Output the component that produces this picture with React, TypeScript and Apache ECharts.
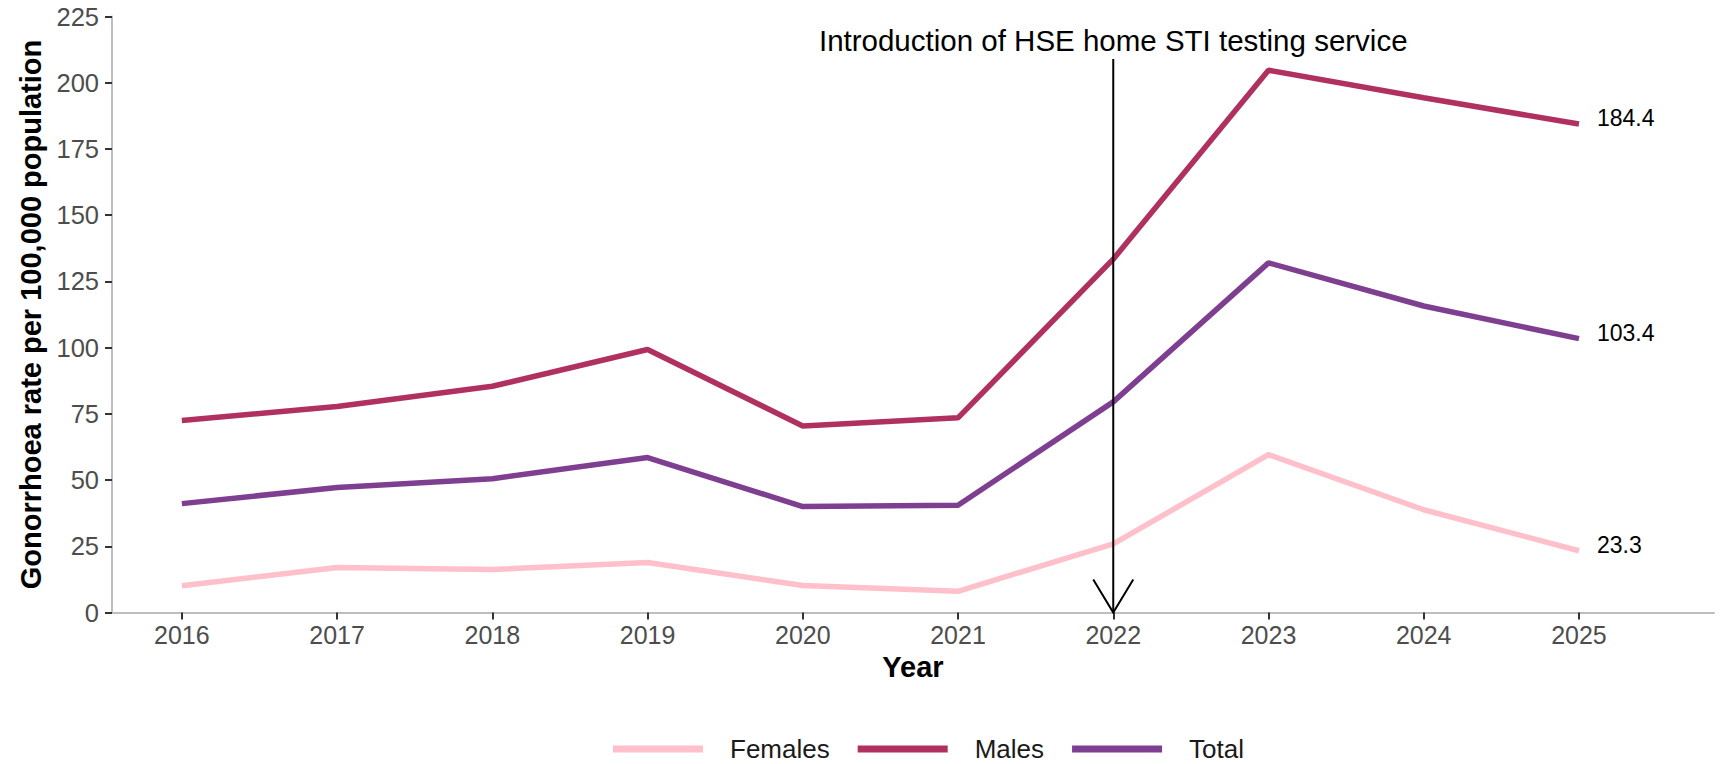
import React, { useEffect, useRef } from "react";
import * as echarts from "echarts";

const years = [2016, 2017, 2018, 2019, 2020, 2021, 2022, 2023, 2024, 2025];
const females = [10.1, 17.0, 16.2, 18.9, 10.2, 8.0, 25.9, 59.6, 38.8, 23.3];
const males = [72.5, 77.8, 85.4, 99.3, 70.4, 73.5, 133.4, 204.7, 194.3, 184.4];
const total = [41.1, 47.2, 50.5, 58.5, 40.0, 40.5, 79.5, 132.0, 115.7, 103.4];
const seriesNames = ["Females", "Males", "Total"];
const seriesColors = ["#FFC0CB", "#B03060", "#7F3F90"];
const yTicks = [0, 25, 50, 75, 100, 125, 150, 175, 200, 225];
const annotationText = "Introduction of HSE home STI testing service";
// [year, arrow top, arrow bottom, text y]
const annotation = [[2022, 209, 0, 216]];

const FONT = "'Liberation Sans', Arial, sans-serif";

export default function App() {
  const ref = useRef<HTMLDivElement>(null);
  useEffect(() => {
    document.body.style.margin = "0";
    const chart = echarts.init(ref.current!, null, { renderer: "svg" });
    const all = [females, males, total];
    const lineSeries = all.map((vals, i) => ({
      name: seriesNames[i],
      type: "line",
      data: years.map((y, j) => [y, vals[j]]),
      showSymbol: false,
      symbol: "none",
      lineStyle: { width: 5.5, color: seriesColors[i] },
      itemStyle: { color: seriesColors[i] },
      emphasis: { disabled: true },
      endLabel: {
        show: true,
        formatter: (p: any) => Number(p.value[1]).toFixed(1),
        distance: 18,
        offset: [0, -6],
        fontSize: 23,
        color: "#000",
        fontFamily: FONT,
      },
      z: 2,
    }));
    chart.setOption({
      animation: false,
      backgroundColor: "#fff",
      textStyle: { fontFamily: FONT },
      grid: { left: 112, right: 12, top: 16.5, bottom: 151.5, containLabel: false },
      legend: {
        data: seriesNames,
        left: 608,
        top: 731,
        icon: "rect",
        itemWidth: 90,
        itemHeight: 7,
        itemGap: 28,
        textStyle: {
          fontSize: 26,
          color: "#1a1a1a",
          fontFamily: FONT,
          padding: [0, 0, 0, 22],
        },
        selectedMode: false,
      },
      xAxis: {
        type: "value",
        min: 2015.55,
        max: 2025.87,
        name: "Year",
        nameLocation: "middle",
        nameGap: 39,
        nameTextStyle: { fontSize: 29, fontWeight: "bold", color: "#000", fontFamily: FONT },
        axisLine: { show: true, lineStyle: { color: "#BEBEBE", width: 2 } },
        axisTick: { show: true, customValues: years, length: 7, lineStyle: { color: "#333", width: 2 } },
        axisLabel: {
          customValues: years,
          formatter: (v: number) => String(Math.round(v)),
          fontSize: 25,
          color: "#4D4D4D",
          margin: 10,
          fontFamily: FONT,
        },
        splitLine: { show: false },
      },
      yAxis: {
        type: "value",
        min: 0,
        max: 225,
        interval: 25,
        name: "Gonorrhoea rate per 100,000 population",
        nameLocation: "middle",
        nameRotate: 90,
        nameGap: 62,
        nameTextStyle: { fontSize: 29, fontWeight: "bold", color: "#000", fontFamily: FONT },
        axisLine: { show: true, lineStyle: { color: "#BEBEBE", width: 2 } },
        axisTick: { show: true, length: 7, lineStyle: { color: "#333", width: 2 } },
        axisLabel: {
          customValues: yTicks,
          fontSize: 25.5,
          color: "#4D4D4D",
          margin: 13,
          fontFamily: FONT,
        },
        splitLine: { show: false },
      },
      series: [
        ...lineSeries,
        {
          name: "annotation",
          type: "custom",
          clip: false,
          silent: true,
          z: 5,
          data: annotation,
          renderItem: (params: any, api: any) => {
            const top = api.coord([api.value(0), api.value(1)]);
            const bot = api.coord([api.value(0), api.value(2)]);
            const tp = api.coord([api.value(0), api.value(3)]);
            return {
              type: "group",
              children: [
                {
                  type: "line",
                  shape: { x1: top[0], y1: top[1], x2: bot[0], y2: bot[1] },
                  style: { stroke: "#000", lineWidth: 2 },
                },
                {
                  type: "polyline",
                  shape: {
                    points: [
                      [bot[0] - 20, bot[1] - 33],
                      [bot[0], bot[1]],
                      [bot[0] + 20, bot[1] - 33],
                    ],
                  },
                  style: { stroke: "#000", lineWidth: 2, fill: null },
                },
                {
                  type: "text",
                  x: tp[0],
                  y: tp[1],
                  style: {
                    text: annotationText,
                    fontSize: 29.5,
                    fill: "#000",
                    align: "center",
                    verticalAlign: "middle",
                    fontFamily: FONT,
                  },
                },
              ],
            };
          },
        },
      ],
    });
    return () => chart.dispose();
  }, []);
  return <div ref={ref} style={{ width: 1726, height: 764 }} />;
}
